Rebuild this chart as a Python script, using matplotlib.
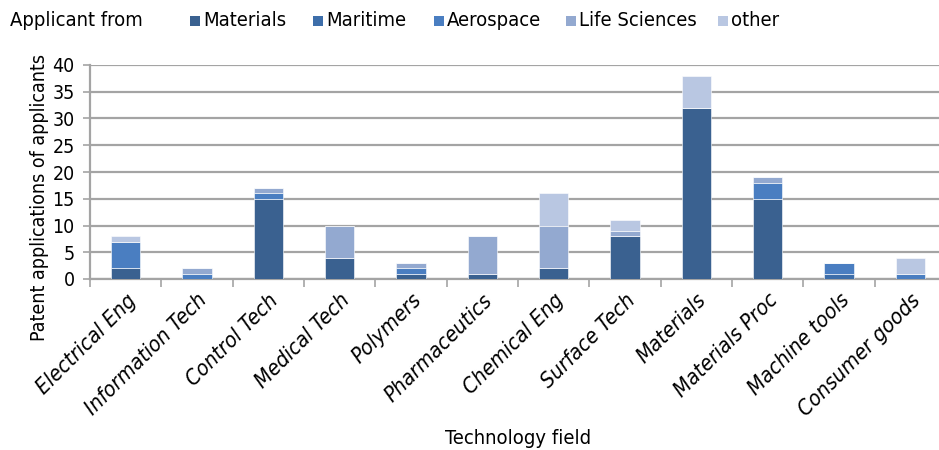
import matplotlib
matplotlib.use("Agg")
import matplotlib.pyplot as plt
from matplotlib import font_manager
from matplotlib.patches import Rectangle
import numpy as np

fields = ["Electrical Eng", "Information Tech", "Control Tech", "Medical Tech",
          "Polymers", "Pharmaceutics", "Chemical Eng", "Surface Tech",
          "Materials", "Materials Proc", "Machine tools", "Consumer goods"]

materials     = [2, 0, 15, 4, 1, 1, 2, 8, 32, 15, 0, 0]
maritime      = [0, 0, 0, 0, 0, 0, 0, 0, 0, 0, 1, 0]
aerospace     = [5, 1, 1, 0, 1, 0, 0, 0, 0, 3, 2, 1]
life_sciences = [0, 1, 1, 6, 1, 7, 8, 1, 0, 1, 0, 0]
other         = [1, 0, 0, 0, 0, 0, 6, 2, 6, 0, 0, 3]

series_names = ["Materials", "Maritime", "Aerospace", "Life Sciences", "other"]
series_colors = ["#3a6190", "#3d6eaa", "#4a7ec1", "#93a9d0", "#b9c7e2"]
y_ticks = [0, 5, 10, 15, 20, 25, 30, 35, 40]

# prefer a condensed sans face if one is installed
fonts = font_manager.fontManager.ttflist
cond = [f for f in fonts if f.stretch in ("condensed", "semi-condensed")
        and "Sans" in f.name]
if cond:
    plt.rcParams["font.family"] = cond[0].name
    plt.rcParams["font.stretch"] = cond[0].stretch
else:
    plt.rcParams["font.family"] = "Lato"

fig = plt.figure(figsize=(9.39, 4.5), dpi=100)
ax = fig.add_axes([90 / 939, (450 - 279) / 450, 856 / 939, (279 - 65) / 450])

x = np.arange(len(fields))
bottom = np.zeros(len(fields))
for name, vals, col in zip(series_names,
                           [materials, maritime, aerospace, life_sciences, other],
                           series_colors):
    vals = np.array(vals, dtype=float)
    ax.bar(x, vals, width=0.41, bottom=bottom, color=col,
           edgecolor="white", linewidth=0.4, zorder=3, label=name)
    bottom += vals

ax.set_xlim(-0.5, len(fields) - 0.5)
ax.set_ylim(0, 40)
ax.set_yticks(y_ticks)
ax.yaxis.grid(True, color="#a4a4a4", linewidth=1.6, zorder=0)
ax.set_axisbelow(True)

for s in ["top", "right"]:
    ax.spines[s].set_visible(False)
for s in ["left", "bottom"]:
    ax.spines[s].set_color("#a4a4a4")
    ax.spines[s].set_linewidth(1.6)

ax.tick_params(axis="y", direction="out", length=5, color="#a4a4a4",
               width=1.2, labelsize=14, pad=6)
ax.set_xticks(np.arange(len(fields) + 1) - 0.5, minor=False)
ax.set_xticklabels([])
ax.tick_params(axis="x", direction="out", length=6, color="#a4a4a4", width=1.2)
ax.set_xticks(x, minor=True)
ax.set_xticklabels(fields, minor=True, rotation=45, ha="right",
                   rotation_mode="anchor", fontsize=15.5, style="italic")
ax.tick_params(axis="x", which="minor", length=0, pad=8)

ax.set_ylabel("Patent applications of applicants", fontsize=14, labelpad=6)
ax.yaxis.set_label_coords(-0.048, 0.38)
ax.set_xlabel("Technology field", fontsize=14.5)
ax.xaxis.set_label_coords(0.5, -0.745)
ax.xaxis.label.set_va("center")

# header row with legend
ytop = 1 - 21 / 450
fig.text(10 / 939, ytop, "Applicant from", fontsize=14.5, ha="left", va="center")
sq_x = [190, 313, 434, 566, 718]
for name, col, px in zip(series_names, series_colors, sq_x):
    fig.patches.append(Rectangle((px / 939, ytop - 5 / 450), 10 / 939, 10 / 450,
                                 transform=fig.transFigure, facecolor=col,
                                 edgecolor="none"))
    fig.text((px + 13) / 939, ytop, name, fontsize=14.5, ha="left", va="center")

fig.savefig("out.png", dpi=100)
